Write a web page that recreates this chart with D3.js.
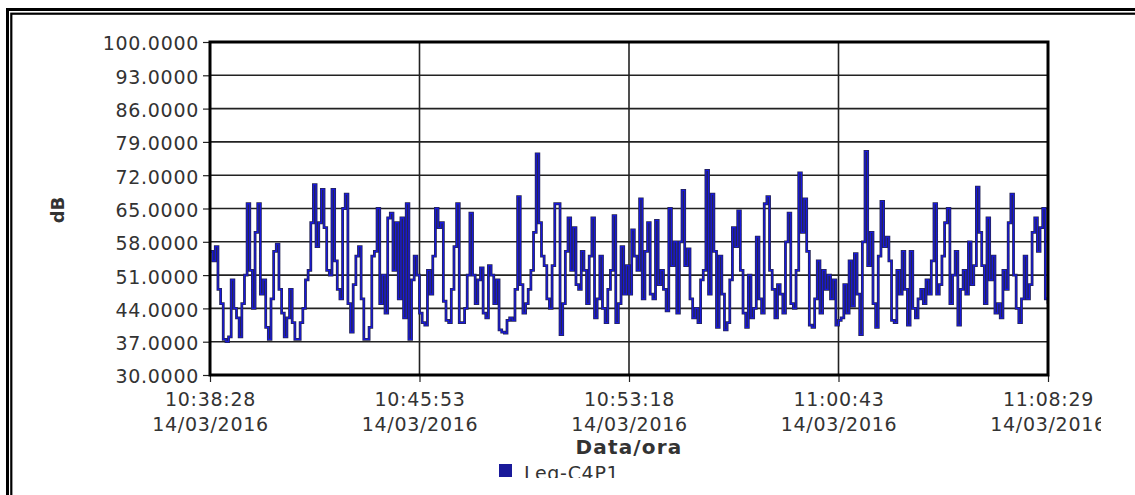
<!DOCTYPE html>
<html><head><meta charset="utf-8">
<script src="https://cdn.jsdelivr.net/npm/d3@7"></script>
<style>
html,body{margin:0;padding:0;background:#fff;}
svg{display:block;}
text{font-family:"DejaVu Sans",Verdana,sans-serif;fill:#333;}
</style></head>
<body>
<svg id="chart" width="1135" height="495"></svg>
<script>
// ---- DATA ----
const seriesName = "Leq-C4P1";
const yTicks = [30, 37, 44, 51, 58, 65, 72, 79, 86, 93, 100];
const xTickTimes = ["10:38:28", "10:45:53", "10:53:18", "11:00:43", "11:08:29"];
const xTickDates = ["14/03/2016", "14/03/2016", "14/03/2016", "14/03/2016", "14/03/2016"];
const xTitle = "Data/ora";
const yTitle = "dB";
const leqPart1 = [56,54,57,48,45,37.5,37,38,50,44,42,38,45,51,66,52,44,60,66,47,50,40,37.5,46,56,57.5,48,43,38,42,48,41,37.5,37.5,41,44,50,52,62,70,57,62,69,61,52,51,69,54,48,46,65,68,45,39,49,55,57,46,37.5,37.5,40,55,56,65,45,51,43,63,64,52,62,46,63,42,66,37.5,50,55];
const leqPart2 = [51,43,41,40.5,52,47,55,65,61,62,45.5,41.5,41,48,57,66,41,41,44,51,64,51,45,50,52.5,43,42,53,51,45,50,39.5,39,38.8,41.5,42,41.5,48,67.5,49,43,45,48,52,60,76.5,62,55,53,46,44,53,66,66,38.5,45,56,63,52,61,49,48,56,52,45,55,63,42,46,55,44,41,48,52,63.5,41,45,57,47];
const leqPart3 = [53,47,60.5,55,52,67,46,56,62,47,46,62.5,49,52,48,43.5,65,53,58,43,58,68.8,53,56.5,46,42,44,41,50,52,73,47,68,56,40,55,47,39.5,41,50,61,57,64.5,52,43,40,51,42,44,59,46,43,66,67.5,52,48,42,49,47,43,58,64,45,44,52,72.5,60,67,56,40.5,40,46,54,43,52,48,51,46,50];
const leqPart4 = [40.5,41.5,42,49,43,54,44.5,55.5,47,38.5,58,77,53,60,45,40,55,66.5,57,59,54,41.5,41,52,47,56,48,40.5,56,44,42,46,48,45,50,47,54,66,47,49,55,62,65,45,51,56,40.5,48,52,47,58,49,53,69.5,60,53,45,63,50,55,43,45,42,52,48,62,68,51,44,41,46,55,46,49,60,63,56,61,65,46,45];
const leq = leqPart1.concat(leqPart2, leqPart3, leqPart4);

// ---- LAYOUT ----
const svg = d3.select("#chart");
const L = 210, R = 1048, T = 42, B = 375;

// outer double frame (right/bottom run off the picture)
svg.append("rect").attr("x", 7.5).attr("y", 9.5).attr("width", 1200).attr("height", 600)
  .attr("fill", "none").attr("stroke", "#000").attr("stroke-width", 3);
svg.append("rect").attr("x", 11.3).attr("y", 13.7).attr("width", 1200).attr("height", 600)
  .attr("fill", "none").attr("stroke", "#000").attr("stroke-width", 2.2);

const x = d3.scaleLinear().domain([0, leq.length - 1]).range([L, R]);
const y = d3.scaleLinear().domain([30, 100]).range([B, T]);
const xTickIdx = xTickTimes.map((d, i) => (leq.length - 1) * i / (xTickTimes.length - 1));

// grid
const grid = svg.append("g");
grid.selectAll("line.h").data(yTicks).join("line").attr("class", "h")
  .attr("x1", L).attr("x2", R).attr("y1", d => y(d)).attr("y2", d => y(d))
  .attr("stroke", "#222").attr("stroke-width", 1.6);
grid.selectAll("line.v").data(xTickIdx).join("line").attr("class", "v")
  .attr("x1", d => x(d)).attr("x2", d => x(d)).attr("y1", T).attr("y2", B)
  .attr("stroke", "#222").attr("stroke-width", 1.6);

// series line (step-like, dark edge + blue core)
const line = d3.line().curve(d3.curveStepAfter).x((d, i) => x(i)).y(d => y(d));
svg.append("clipPath").attr("id", "pc").append("rect")
  .attr("x", L).attr("y", T).attr("width", R - L).attr("height", B - T);
const lg = svg.append("g").attr("clip-path", "url(#pc)");
lg.append("path").datum(leq).attr("d", line).attr("fill", "none")
  .attr("stroke", "#262650").attr("stroke-width", 2.8);
lg.append("path").datum(leq).attr("d", line).attr("fill", "none")
  .attr("stroke", "#1818dc").attr("stroke-width", 1.3);

// axes
const yAxis = d3.axisLeft(y).tickValues(yTicks).tickSize(7).tickPadding(4)
  .tickFormat(d => d.toFixed(4));
const gy = svg.append("g").attr("transform", `translate(${L},0)`).call(yAxis);
gy.select(".domain").remove();
gy.selectAll(".tick line").attr("stroke", "#222").attr("stroke-width", 1.2);
gy.selectAll(".tick text").attr("font-size", 19).attr("letter-spacing", "0.7px")
  .attr("fill", "#333").attr("font-family", "DejaVu Sans").attr("dy", "0.42em").attr("x", -11);

svg.append("clipPath").attr("id", "xlabclip").append("rect")
  .attr("x", 0).attr("y", 0).attr("width", 1101).attr("height", 495);
const xAxis = d3.axisBottom(x).tickValues(xTickIdx).tickSize(7).tickFormat("");
const gx = svg.append("g").attr("clip-path", "url(#xlabclip)")
  .append("g").attr("transform", `translate(0,${B})`).call(xAxis);
gx.select(".domain").remove();
gx.selectAll(".tick line").attr("stroke", "#222").attr("stroke-width", 1.2);
gx.selectAll(".tick").each(function(d, i) {
  const t = d3.select(this).append("text").attr("text-anchor", "middle")
    .attr("font-size", 19).attr("letter-spacing", "0.7px").attr("fill", "#333")
    .attr("font-family", "DejaVu Sans");
  t.append("tspan").attr("x", 0).attr("y", 31).text(xTickTimes[i]);
  t.append("tspan").attr("x", 0).attr("y", 56).text(xTickDates[i]);
});

// plot frame
svg.append("rect").attr("x", L).attr("y", T).attr("width", R - L).attr("height", B - T)
  .attr("fill", "none").attr("stroke", "#000").attr("stroke-width", 3);

// titles
svg.append("text").attr("x", 629).attr("y", 454).attr("text-anchor", "middle")
  .attr("font-size", 20).attr("font-weight", "bold").attr("letter-spacing", "1.2px")
  .attr("fill", "#111").text(xTitle);
svg.append("text").attr("transform", "translate(64,210) rotate(-90)").attr("text-anchor", "middle")
  .attr("font-size", 18).attr("font-weight", "bold").attr("fill", "#111").text(yTitle);

// legend (clipped at bottom as in the original)
svg.append("clipPath").attr("id", "legclip").append("rect")
  .attr("x", 480).attr("y", 455).attr("width", 200).attr("height", 23);
const leg = svg.append("g").attr("clip-path", "url(#legclip)");
leg.append("rect").attr("x", 499).attr("y", 464).attr("width", 13).attr("height", 13).attr("fill", "#1a1a9a");
leg.append("text").attr("x", 524).attr("y", 480).attr("font-size", 19).attr("letter-spacing", "0.7px")
  .attr("fill", "#333").text(seriesName);
</script>
</body></html>
